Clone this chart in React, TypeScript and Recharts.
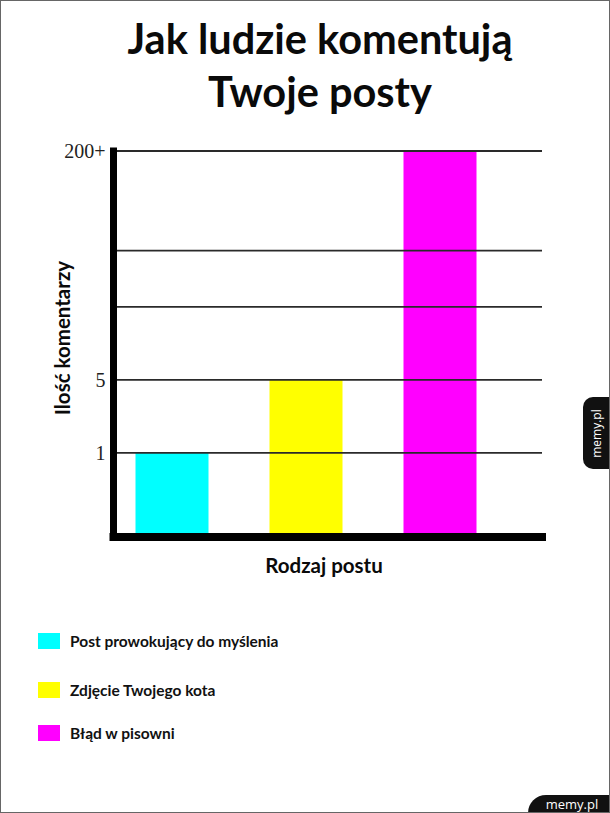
import { BarChart, Bar, XAxis, YAxis, Cell, ReferenceLine } from 'recharts';

// ── Data ──────────────────────────────────────────────────────────────────────

const CATEGORIES = ['Post prowokujący do myślenia', 'Zdjęcie Twojego kota', 'Błąd w pisowni'];
const COMMENTS = [1, 5, 200];
const COLOURS = ['#00FFFF', '#FFFF00', '#FF00FF'];

// The hand-drawn y axis is not linear: each comment count sits at its own step.
const COMMENT_STEPS = [0, 1, 5, 20, 50, 200];
const STEP_HEIGHTS = [0, 21.8, 40.7, 59.6, 74.2, 100];
const STEP_LABELS = ['', '1', '5', '', '', '200+'];

const TITLE = ['Jak ludzie komentują', 'Twoje posty'];
const X_LABEL = 'Rodzaj postu';
const Y_LABEL = 'Ilość komentarzy';

// ── Helpers ───────────────────────────────────────────────────────────────────

function toAxis(v: number): number {
  for (let i = 1; i < COMMENT_STEPS.length; i++) {
    if (v <= COMMENT_STEPS[i]) {
      const a = COMMENT_STEPS[i - 1];
      const b = COMMENT_STEPS[i];
      const t = (v - a) / (b - a);
      return STEP_HEIGHTS[i - 1] + t * (STEP_HEIGHTS[i] - STEP_HEIGHTS[i - 1]);
    }
  }
  return STEP_HEIGHTS[STEP_HEIGHTS.length - 1];
}

const data = CATEGORIES.map((name, i) => ({ name, comments: COMMENTS[i], level: toAxis(COMMENTS[i]) }));

const SANS = 'Lato, "Open Sans", sans-serif';
const LEGEND_TOPS = [633, 682, 725];

export default function App() {
  return (
    <div style={{ position: 'fixed', left: 0, top: 0, width: 610, height: 813, background: '#fff', overflow: 'hidden' }}>
      {/* Title */}
      {TITLE.map((line, i) => (
        <div
          key={line}
          style={{
            position: 'absolute', left: 0, width: 640, top: 12 + i * 53, textAlign: 'center',
            fontFamily: SANS, fontWeight: 700, fontSize: 41.5, lineHeight: '53px', color: '#0a0a0a',
          }}
        >
          {line}
        </div>
      ))}

      <BarChart
        width={610}
        height={813}
        data={data}
        margin={{ top: 151, right: 68, bottom: 246, left: 0 }}
        style={{ position: 'absolute', left: 0, top: 0 }}
      >
        <XAxis
          dataKey="name"
          type="category"
          tick={false}
          tickLine={false}
          height={30}
          padding={{ left: -9, right: 35.5 }}
          axisLine={{ stroke: '#000', strokeWidth: 8, strokeLinecap: 'square' }}
        />
        <YAxis
          type="number"
          domain={[0, 100]}
          ticks={STEP_HEIGHTS.slice(1)}
          width={113.5}
          tickSize={0}
          tickMargin={8}
          tickLine={false}
          tickFormatter={(v: number) => STEP_LABELS[STEP_HEIGHTS.indexOf(v)] ?? ''}
          tick={{ fontFamily: '"Liberation Serif", "Times New Roman", serif', fontSize: 20, fill: '#222' }}
          axisLine={{ stroke: '#000', strokeWidth: 7, strokeLinecap: 'square' }}
        />
        <Bar dataKey="level" barSize={73} isAnimationActive={false}>
          {data.map((d, i) => (
            <Cell key={d.name} fill={COLOURS[i]} />
          ))}
        </Bar>
        {STEP_HEIGHTS.slice(1).map((h) => (
          <ReferenceLine key={h} y={h} stroke="#2a2a2a" strokeWidth={1.8} ifOverflow="visible" />
        ))}
      </BarChart>

      {/* Axis titles */}
      <div
        style={{
          position: 'absolute', left: 62, top: 338, transform: 'translate(-50%, -50%) rotate(-90deg)',
          whiteSpace: 'nowrap', fontFamily: SANS, fontWeight: 700, fontSize: 20.5, color: '#0a0a0a',
        }}
      >
        {Y_LABEL}
      </div>
      <div
        style={{
          position: 'absolute', left: 324, top: 565, transform: 'translate(-50%, -50%)',
          whiteSpace: 'nowrap', fontFamily: SANS, fontWeight: 700, fontSize: 20.5, color: '#0a0a0a',
        }}
      >
        {X_LABEL}
      </div>

      {/* Legend */}
      {CATEGORIES.map((name, i) => (
        <div key={name} style={{ position: 'absolute', left: 38, top: LEGEND_TOPS[i], display: 'flex', alignItems: 'center' }}>
          <span style={{ width: 22, height: 16, background: COLOURS[i], display: 'inline-block' }} />
          <span style={{ marginLeft: 10, fontFamily: SANS, fontWeight: 700, fontSize: 15.5, color: '#111', lineHeight: '16px' }}>
            {name}
          </span>
        </div>
      ))}

      {/* Watermarks */}
      <div
        style={{
          position: 'absolute', left: 583, top: 397, width: 27, height: 72, background: '#111',
          borderRadius: '10px 0 0 10px', display: 'flex', alignItems: 'center', justifyContent: 'center',
        }}
      >
        <span style={{ transform: 'rotate(-90deg)', color: '#fff', fontFamily: '"Open Sans", sans-serif', fontSize: 12, whiteSpace: 'nowrap' }}>
          memy.pl
        </span>
      </div>
      <div
        style={{
          position: 'absolute', left: 528, top: 795, width: 82, height: 18, background: '#111',
          borderRadius: '18px 0 0 0', color: '#fff', fontFamily: '"Open Sans", sans-serif', fontSize: 13,
          lineHeight: '18px', textAlign: 'center', paddingLeft: 6, boxSizing: 'border-box',
        }}
      >
        memy.pl
      </div>
      <div style={{ position: 'absolute', inset: 0, border: '1px solid #666', pointerEvents: 'none' }} />
    </div>
  );
}
